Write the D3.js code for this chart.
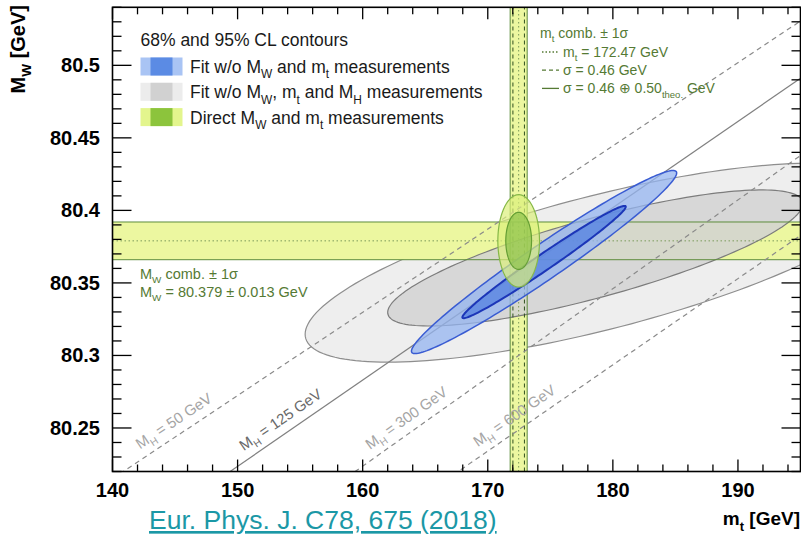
<!DOCTYPE html>
<html>
<head>
<meta charset="utf-8">
<script src="https://cdn.jsdelivr.net/npm/d3@7"></script>
<style>
  body { margin: 0; background: #fff; }
  svg { display: block; font-family: "Liberation Sans", Arial, sans-serif; }
</style>
</head>
<body>
<svg id="chart" width="801" height="537"></svg>
<script>
// axis ranges and ticks
const mtDomain = [140, 195];
const mwDomain = [80.22, 80.54];
const mtTicks = [140, 150, 160, 170, 180, 190];
const mwTicks = [80.25, 80.3, 80.35, 80.4, 80.45, 80.5];

// direct measurements
const mtComb = { value: 172.47, exp: 0.46, tot: 0.68 };
const mwComb = { value: 80.379, err: 0.013 };
const clFactors = [2.448, 1.515]; // 95%, 68% for 2 dof

// fit contours (centre, half extents, correlation)
const greyContours = [
  { cl: 95, mt: 179.0, mw: 80.364, dmt: 23.6, dmw: 0.0686, rho: 0.72 },
  { cl: 68, mt: 178.6, mw: 80.3672, dmt: 16.6, dmw: 0.0469, rho: 0.8 }
];
const blueContours = [
  { cl: 95, mt: 174.5, mw: 80.3644, dmt: 10.6, dmw: 0.0631, rho: 0.973 },
  { cl: 68, mt: 174.5, mw: 80.3644, dmt: 6.53, dmw: 0.0387, rho: 0.9845 }
];

// SM lines for fixed M_H: M_W at mt = 140 and mt = 195
const mhValues = [50, 125, 300, 600];
const mhLineMw = [[80.2150, 80.5305], [80.1641, 80.4911], [80.1013, 80.4378], [80.0557, 80.3827]];
const mhLabelMt = [142.6, 150.9, 161.0, 169.6];

// 화면 설정
const margin = { top: 7.3, right: 0.5, bottom: 65.5, left: 112.5 };
const W = 801, H = 537;
const svg = d3.select("#chart");

const x = d3.scaleLinear().domain(mtDomain).range([margin.left, W - margin.right]);
const y = d3.scaleLinear().domain(mwDomain).range([H - margin.bottom, margin.top]);

svg.append("defs").append("clipPath").attr("id", "plotclip")
  .append("rect")
  .attr("x", x(mtDomain[0])).attr("y", y(mwDomain[1]))
  .attr("width", x(mtDomain[1]) - x(mtDomain[0]))
  .attr("height", y(mwDomain[0]) - y(mwDomain[1]));

const plot = svg.append("g").attr("clip-path", "url(#plotclip)");

const line = d3.line().x(d => x(d[0])).y(d => y(d[1]));

function ellipse(c) {
  const pts = [];
  const s = Math.sqrt(1 - c.rho * c.rho);
  for (let i = 0; i <= 180; i++) {
    const t = i / 180 * 2 * Math.PI;
    const u = Math.cos(t);
    const v = c.rho * Math.cos(t) + s * Math.sin(t);
    pts.push([c.mt + c.dmt * u, c.mw + c.dmw * v]);
  }
  return line(pts) + "Z";
}

// grey 95%
plot.append("path").attr("d", ellipse(greyContours[0]))
  .attr("fill", "#eeeeee").attr("stroke", "#8e8e8e").attr("stroke-width", 1.2);

// bands
const bandFill = "#ecf7a0";
plot.append("rect")
  .attr("x", x(mtDomain[0])).attr("width", x(mtDomain[1]) - x(mtDomain[0]))
  .attr("y", y(mwComb.value + mwComb.err))
  .attr("height", y(mwComb.value - mwComb.err) - y(mwComb.value + mwComb.err))
  .attr("fill", bandFill);
plot.append("rect")
  .attr("x", x(mtComb.value - mtComb.tot))
  .attr("width", x(mtComb.value + mtComb.tot) - x(mtComb.value - mtComb.tot))
  .attr("y", y(mwDomain[1])).attr("height", y(mwDomain[0]) - y(mwDomain[1]))
  .attr("fill", bandFill);

// grey 68%
plot.append("path").attr("d", ellipse(greyContours[1]))
  .attr("fill", "#d2d2d2").attr("fill-opacity", 0.85)
  .attr("stroke", "#7c7c7c").attr("stroke-width", 1.2);

// band lines
const bandLine = "#5d8c3c";
[mwComb.value - mwComb.err, mwComb.value + mwComb.err].forEach(v => {
  plot.append("path").attr("d", line([[mtDomain[0], v], [mtDomain[1], v]]))
    .attr("stroke", bandLine).attr("stroke-width", 1).attr("fill", "none");
});
plot.append("path").attr("d", line([[mtDomain[0], mwComb.value], [mtDomain[1], mwComb.value]]))
  .attr("stroke", "#7a9a5a").attr("stroke-width", 1).attr("stroke-dasharray", "1.5,2.5").attr("fill", "none");
[mtComb.value - mtComb.tot, mtComb.value + mtComb.tot].forEach(v => {
  plot.append("path").attr("d", line([[v, mwDomain[0]], [v, mwDomain[1]]]))
    .attr("stroke", bandLine).attr("stroke-width", 1).attr("fill", "none");
});
[mtComb.value - mtComb.exp, mtComb.value + mtComb.exp].forEach(v => {
  plot.append("path").attr("d", line([[v, mwDomain[0]], [v, mwDomain[1]]]))
    .attr("stroke", "#2f4f1f").attr("stroke-width", 1).attr("stroke-dasharray", "4,3").attr("fill", "none");
});
plot.append("path").attr("d", line([[mtComb.value, mwDomain[0]], [mtComb.value, mwDomain[1]]]))
  .attr("stroke", "#7a9a5a").attr("stroke-width", 1).attr("stroke-dasharray", "1.5,2.5").attr("fill", "none");

// M_H lines
mhValues.forEach((mh, i) => {
  plot.append("path")
    .attr("d", line([[mtDomain[0], mhLineMw[i][0]], [mtDomain[1], mhLineMw[i][1]]]))
    .attr("stroke", mh === 125 ? "#808080" : "#8a8a8a")
    .attr("stroke-width", 1.2)
    .attr("stroke-dasharray", mh === 125 ? null : "5,4")
    .attr("fill", "none");
});

// blue contours
plot.append("path").attr("d", ellipse(blueContours[0]))
  .attr("fill", "#94b4f0").attr("fill-opacity", 0.75)
  .attr("stroke", "#3a5cd2").attr("stroke-width", 1.5);
plot.append("path").attr("d", ellipse(blueContours[1]))
  .attr("fill", "#5482e0").attr("fill-opacity", 0.75)
  .attr("stroke", "#1c36b8").attr("stroke-width", 2);

// direct measurement ellipses
const greenStyles = [
  { fill: "#dcf07a", op: 0.7, stroke: "#86b848" },
  { fill: "#8cc24a", op: 0.7, stroke: "#649e34" }
];
clFactors.forEach((k, i) => {
  plot.append("path")
    .attr("d", ellipse({ mt: mtComb.value, mw: mwComb.value, dmt: k * mtComb.tot, dmw: k * mwComb.err, rho: 0 }))
    .attr("fill", greenStyles[i].fill).attr("fill-opacity", greenStyles[i].op)
    .attr("stroke", greenStyles[i].stroke).attr("stroke-width", 1.2);
});

// helper for text with subscripts
function rich(sel, parts, size) {
  parts.forEach(p => {
    const isSub = p[1] === "sub";
    sel.append("tspan")
      .attr("font-size", isSub ? size * 0.68 : size)
      .attr("dy", isSub ? size * 0.3 : (p[2] ? -size * 0.3 : 0))
      .text(p[0]);
  });
  return sel;
}

// M_H labels
mhValues.forEach((mh, i) => {
  const m0 = mhLabelMt[i];
  const slope = (mhLineMw[i][1] - mhLineMw[i][0]) / (mtDomain[1] - mtDomain[0]);
  const w0 = mhLineMw[i][0] + slope * (m0 - mtDomain[0]);
  const px = x(m0), py = y(w0);
  const ang = Math.atan2(y(w0 + slope * 10) - py, x(m0 + 10) - px) * 180 / Math.PI;
  const t = plot.append("text")
    .attr("transform", `translate(${px},${py}) rotate(${ang}) translate(0,-9)`)
    .attr("fill", mh === 125 ? "#6a6a6a" : "#a5a5a5");
  rich(t, [["M"], ["H", "sub"], [` = ${mh} GeV`, null, true]], 15);
});

// frame and axes
const axisG = svg.append("g").attr("stroke", "#000");
const mtMinor = d3.range(mtDomain[0], mtDomain[1] + 0.001, 2).filter(v => v % 10 !== 0);
const mwMinor = d3.range(0, 33).map(i => +(mwDomain[0] + i * 0.01).toFixed(2))
  .filter(v => !mwTicks.some(t => Math.abs(t - v) < 1e-6));

function ticksX(vals, len) {
  vals.forEach(v => {
    axisG.append("line").attr("x1", x(v)).attr("x2", x(v))
      .attr("y1", y(mwDomain[0])).attr("y2", y(mwDomain[0]) - len).attr("stroke-width", 1.3);
    axisG.append("line").attr("x1", x(v)).attr("x2", x(v))
      .attr("y1", y(mwDomain[1])).attr("y2", y(mwDomain[1]) + len).attr("stroke-width", 1.3);
  });
}
function ticksY(vals, len) {
  vals.forEach(v => {
    axisG.append("line").attr("y1", y(v)).attr("y2", y(v))
      .attr("x1", x(mtDomain[0])).attr("x2", x(mtDomain[0]) + len).attr("stroke-width", 1.3);
    axisG.append("line").attr("y1", y(v)).attr("y2", y(v))
      .attr("x1", x(mtDomain[1])).attr("x2", x(mtDomain[1]) - len).attr("stroke-width", 1.3);
  });
}
ticksX(mtTicks, 12);
ticksX(mtMinor, 7);
ticksY(mwTicks, 19);
ticksY(mwMinor, 9);

svg.append("rect")
  .attr("x", x(mtDomain[0])).attr("y", y(mwDomain[1]))
  .attr("width", x(mtDomain[1]) - x(mtDomain[0]))
  .attr("height", y(mwDomain[0]) - y(mwDomain[1]))
  .attr("fill", "none").attr("stroke", "#000").attr("stroke-width", 1.6);

svg.append("g").selectAll("text").data(mtTicks).enter().append("text")
  .attr("x", d => x(d)).attr("y", 497)
  .attr("text-anchor", "middle").attr("font-weight", "bold").attr("font-size", 20)
  .text(d => d);
svg.append("g").selectAll("text").data(mwTicks).enter().append("text")
  .attr("x", 100).attr("y", d => y(d) + 7)
  .attr("text-anchor", "end").attr("font-weight", "bold").attr("font-size", 20)
  .text(d => d3.format("~g")(d));

// axis titles
const yt = svg.append("text")
  .attr("transform", "translate(25,5) rotate(-90)")
  .attr("text-anchor", "end").attr("font-weight", "bold");
rich(yt, [["M"], ["W", "sub"], [" [GeV]", null, true]], 20);
const xt = svg.append("text")
  .attr("x", 800).attr("y", 525)
  .attr("text-anchor", "end").attr("font-weight", "bold");
rich(xt, [["m"], ["t", "sub"], [" [GeV]", null, true]], 19);

svg.append("text")
  .attr("x", 149).attr("y", 529)
  .attr("font-size", 26.5).attr("fill", "#1b98a6")
  .attr("text-decoration", "underline")
  .text("Eur. Phys. J. C78, 675 (2018)");

// legend top-left
const lg = svg.append("g").attr("fill", "#1a1a1a");
lg.append("text").attr("x", 140.5).attr("y", 46).attr("font-size", 17.5).text("68% and 95% CL contours");
const swatches = [
  { light: "#a9c4f4", dark: "#5b8be4", parts: [["Fit w/o M"], ["W", "sub"], [" and m", null, true], ["t", "sub"], [" measurements", null, true]] },
  { light: "#ececec", dark: "#d1d1d1", parts: [["Fit w/o M"], ["W", "sub"], [", m", null, true], ["t", "sub"], [" and M", null, true], ["H", "sub"], [" measurements", null, true]] },
  { light: "#e3f58d", dark: "#8cc43c", parts: [["Direct M"], ["W", "sub"], [" and m", null, true], ["t", "sub"], [" measurements", null, true]] }
];
swatches.forEach((s, i) => {
  const y0 = 57.5 + i * 25.3;
  lg.append("rect").attr("x", 140.5).attr("y", y0).attr("width", 42).attr("height", 18).attr("fill", s.light);
  lg.append("rect").attr("x", 150.5).attr("y", y0).attr("width", 22).attr("height", 18).attr("fill", s.dark);
  rich(lg.append("text").attr("x", 190).attr("y", y0 + 15.5), s.parts, 17.5);
});

// legend for m_t band
const green = "#557a34";
const rg = svg.append("g").attr("fill", green);
rich(rg.append("text").attr("x", 540).attr("y", 38), [["m"], ["t", "sub"], [" comb. \u00b1 1\u03c3", null, true]], 14);
const rgLines = [
  { dash: "1.5,2", parts: [["m"], ["t", "sub"], [" = 172.47 GeV", null, true]] },
  { dash: "4,3", parts: [["\u03c3 = 0.46 GeV"]] },
  { dash: null, parts: [["\u03c3 = 0.46 \u2295 0.50"], ["theo.", "sub"], [" GeV", null, true]] }
];
rgLines.forEach((r, i) => {
  const yb = 57 + i * 18.2;
  rg.append("line").attr("x1", 542).attr("x2", 559).attr("y1", yb - 5).attr("y2", yb - 5)
    .attr("stroke", green).attr("stroke-width", 1.3).attr("stroke-dasharray", r.dash);
  rich(rg.append("text").attr("x", 563).attr("y", yb), r.parts, 14);
});

// legend for M_W band
rich(svg.append("text").attr("x", 140).attr("y", 278.5).attr("fill", green),
  [["M"], ["W", "sub"], [" comb. \u00b1 1\u03c3", null, true]], 14.5);
rich(svg.append("text").attr("x", 140).attr("y", 297).attr("fill", green),
  [["M"], ["W", "sub"], [" = 80.379 \u00b1 0.013 GeV", null, true]], 14.5);
</script>
</body>
</html>
